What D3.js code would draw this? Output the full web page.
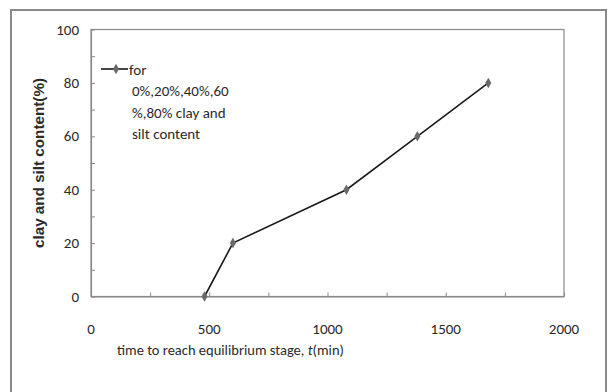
<!DOCTYPE html>
<html>
<head>
<meta charset="utf-8">
<script src="https://cdn.jsdelivr.net/npm/d3@7"></script>
<style>
  body { margin: 0; background: #fff; }
  svg text { font-family: "Carlito", "Liberation Sans Narrow", "Liberation Sans", Arial, sans-serif; fill: #2a2a2a; }
</style>
</head>
<body>
<svg id="chart" width="609" height="392"></svg>
<script>
  // data
  const times = [480, 600, 1080, 1380, 1680];
  const contents = [0, 20, 40, 60, 80];
  const xTickLabels = [0, 500, 1000, 1500, 2000];
  const yTickLabels = [0, 20, 40, 60, 80, 100];
  const legendLines = ["for", "0%,20%,40%,60", "%,80% clay and", "silt content"];

  const svg = d3.select("#chart");
  const plot = { left: 91, right: 564, top: 29.5, bottom: 296.5 };

  // outer frame (bottom edge is cut off in the picture)
  svg.append("path")
    .attr("d", "M11,400 V10 H606 V400")
    .attr("fill", "none")
    .attr("stroke", "#8a8a8a")
    .attr("stroke-width", 2);

  const x = d3.scaleLinear().domain([0, 2000]).range([plot.left, plot.right]);
  const y = d3.scaleLinear().domain([0, 100]).range([plot.bottom, plot.top]);

  // plot area border
  svg.append("rect")
    .attr("x", plot.left).attr("y", plot.top)
    .attr("width", plot.right - plot.left).attr("height", plot.bottom - plot.top)
    .attr("fill", "none").attr("stroke", "#8a8a8a").attr("stroke-width", 1.2);

  // inward ticks
  const xAxis = svg.append("g")
    .attr("transform", `translate(0,${plot.bottom})`)
    .call(d3.axisBottom(x).tickValues(d3.range(0, 2001, 250)).tickSizeInner(-4).tickSizeOuter(0).tickFormat(""));
  const yAxis = svg.append("g")
    .attr("transform", `translate(${plot.left},0)`)
    .call(d3.axisLeft(y).tickValues(d3.range(0, 101, 10)).tickSizeInner(-4).tickSizeOuter(0).tickFormat(""));
  [xAxis, yAxis].forEach(a => {
    a.select(".domain").attr("stroke", "#8a8a8a").attr("stroke-width", 1.2);
    a.selectAll(".tick line").attr("stroke", "#8a8a8a");
  });

  // tick labels
  svg.append("g").selectAll("text")
    .data(xTickLabels).enter().append("text")
      .attr("x", d => x(d))
      .attr("y", 334)
      .attr("text-anchor", "middle")
      .attr("font-size", 15)
      .text(d => d);

  svg.append("g").selectAll("text")
    .data(yTickLabels).enter().append("text")
      .attr("x", 79)
      .attr("y", d => y(d) + 5)
      .attr("text-anchor", "end")
      .attr("font-size", 15)
      .text(d => d);

  // axis titles
  svg.append("text")
    .attr("transform", `translate(44,163) rotate(-90)`)
    .attr("text-anchor", "middle")
    .style("font-family", "'Liberation Sans', Arial, sans-serif")
    .attr("font-weight", "bold")
    .attr("font-size", 14.5)
    .attr("textLength", 170)
    .attr("lengthAdjust", "spacingAndGlyphs")
    .text("clay and silt content(%)");

  const xt = svg.append("text")
    .attr("x", 117)
    .attr("y", 355)
    .attr("font-size", 14.5);
  xt.append("tspan").text("time to reach equilibrium stage, ");
  xt.append("tspan").attr("font-style", "italic").text("t");
  xt.append("tspan").text("(min)");

  // series
  const pts = times.map((t, i) => [t, contents[i]]);
  svg.append("path")
    .datum(pts)
    .attr("fill", "none")
    .attr("stroke", "#1a1a1a")
    .attr("stroke-width", 1.6)
    .attr("d", d3.line().x(d => x(d[0])).y(d => y(d[1])));

  const diamond = d3.symbol().type(d3.symbolDiamond).size(32);
  svg.append("g").selectAll("path")
    .data(pts).enter().append("path")
      .attr("transform", d => `translate(${x(d[0])},${y(d[1])})`)
      .attr("d", diamond)
      .attr("fill", "#6a6a6a");

  // legend
  svg.append("line")
    .attr("x1", 101).attr("x2", 128).attr("y1", 69).attr("y2", 69)
    .attr("stroke", "#1a1a1a").attr("stroke-width", 1.6);
  svg.append("path")
    .attr("transform", "translate(116,69)")
    .attr("d", diamond)
    .attr("fill", "#6a6a6a");

  svg.append("g").selectAll("text")
    .data(legendLines).enter().append("text")
      .attr("x", (d, i) => i === 0 ? 129 : 132)
      .attr("y", (d, i) => 74.5 + i * 21.5)
      .attr("font-size", 15)
      .text(d => d);
</script>
</body>
</html>
